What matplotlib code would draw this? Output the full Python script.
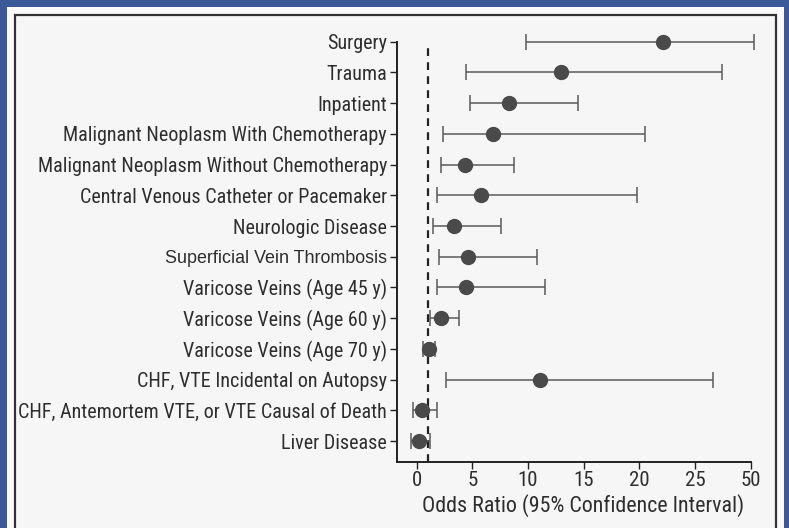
"""Forest plot of odds ratios (95% CI) for VTE risk factors."""
import matplotlib
matplotlib.use('Agg')
import matplotlib.pyplot as plt
from matplotlib.patches import Rectangle

# Risk factors, top to bottom
factors = [
    'Surgery',
    'Trauma',
    'Inpatient',
    'Malignant Neoplasm With Chemotherapy',
    'Malignant Neoplasm Without Chemotherapy',
    'Central Venous Catheter or Pacemaker',
    'Neurologic Disease',
    'Superficial Vein Thrombosis',
    'Varicose Veins (Age 45 y)',
    'Varicose Veins (Age 60 y)',
    'Varicose Veins (Age 70 y)',
    'CHF, VTE Incidental on Autopsy',
    'CHF, Antemortem VTE, or VTE Causal of Death',
    'Liver Disease',
]

# Odds ratios and CI bounds, in axis units (the last tick is labelled 50)
odds_ratio = [22.1, 13.0, 8.25, 6.85, 4.35, 5.8, 3.35, 4.6, 4.4, 2.15, 1.08, 11.1, 0.45, 0.23]
ci_low = [9.8, 4.4, 4.8, 2.4, 2.15, 1.85, 1.45, 2.0, 1.8, 1.2, 0.6, 2.6, -0.3, -0.5]
ci_high = [30.3, 27.4, 14.5, 20.5, 8.75, 19.8, 7.6, 10.8, 11.5, 3.8, 1.6, 26.6, 1.8, 1.2]

x_ticks = [0, 5, 10, 15, 20, 25, 30]
x_tick_labels = ['0', '5', '10', '15', '20', '25', '50']

W, H = 789, 528
fig = plt.figure(figsize=(W / 100, H / 100), dpi=100)
fig.patch.set_facecolor('#3b5998')

# light panel and its dark frame (kept behind the axes)
fig.patches.append(Rectangle((7 / W, 0), 777 / W, 521 / H, transform=fig.transFigure,
                             facecolor='#fafafa', edgecolor='none', zorder=-2))
fig.patches.append(Rectangle((15 / W, -0.05), 761 / W, (513 / H) + 0.05, transform=fig.transFigure,
                             facecolor='#f6f6f6', edgecolor='#333333', lw=1.6, zorder=-1))

ax = fig.add_axes([396.7 / W, 66.3 / H, 354 / W, 420 / H])
ax.set_facecolor('none')

condensed = ['Roboto Condensed', 'DejaVu Sans']
txt_color = '#2e2e2e'

ys = list(range(len(factors)))
xerr = [[o - lo for o, lo in zip(odds_ratio, ci_low)],
        [hi - o for o, hi in zip(odds_ratio, ci_high)]]

ax.axvline(1, color='#222222', lw=1.6, ls=(0, (3.5, 2.8)), zorder=1)
ax.errorbar(odds_ratio, ys, xerr=xerr, fmt='o', color='#4a4a4a', ms=10,
            ecolor='#5a5a5a', elinewidth=1.1, capsize=6, capthick=1.1,
            zorder=3, clip_on=False)

ax.set_ylim(len(factors) - 1 + 0.67, 0)
ax.set_xlim(-1.8, 30)
ax.set_yticks(ys)
ax.set_yticklabels(factors, family=condensed, stretch='condensed',
                   fontsize=14.5, color=txt_color)
for lab in ax.get_yticklabels():
    if lab.get_text() == 'Superficial Vein Thrombosis':
        lab.set_family(['Liberation Sans', 'DejaVu Sans'])
        lab.set_stretch('normal')
        lab.set_fontsize(12.9)

ax.set_xticks(x_ticks)
ax.set_xticklabels(x_tick_labels, family=condensed, stretch='condensed',
                   fontsize=15, color=txt_color)
ax.set_xlabel('Odds Ratio (95% Confidence Interval)', family=condensed,
              stretch='condensed', fontsize=15.8, color=txt_color)
ax.xaxis.set_label_coords(0.527, -0.077, transform=ax.transAxes)
ax.xaxis.label.set_va('top')

for side in ['top', 'right']:
    ax.spines[side].set_visible(False)
for side in ['left', 'bottom']:
    ax.spines[side].set_color('#222222')
    ax.spines[side].set_linewidth(1.4)
ax.tick_params(axis='both', direction='out', length=5, width=1, color='#222222', pad=2)

fig.savefig('out.png', dpi=100, facecolor=fig.get_facecolor())
